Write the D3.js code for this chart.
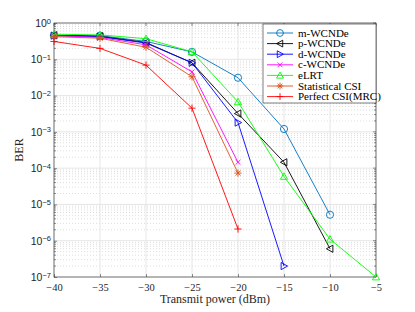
<!DOCTYPE html>
<html>
<head>
<meta charset="utf-8">
<script src="https://cdn.jsdelivr.net/npm/d3@7"></script>
<style>
  body { margin: 0; background: #fff; }
  svg { display: block; font-family: "Liberation Serif", "Times New Roman", serif; }
</style>
</head>
<body>
<svg id="chart" width="415" height="312"></svg>
<script>
// transmit power (dBm)
var power = [-40, -35, -30, -25, -20, -15, -10, -5];
var xTicks = [-40, -35, -30, -25, -20, -15, -10, -5];
var yTicks = [1e0, 1e-1, 1e-2, 1e-3, 1e-4, 1e-5, 1e-6, 1e-7];

// BER per scheme
var mWCNDe = [0.45, 0.45, 0.31, 0.16, 0.031, 0.0012, 5.2e-6];
var pWCNDe = [0.46, 0.43, 0.29, 0.08, 0.0032, 1.45e-4, 6e-7];
var dWCNDe = [0.45, 0.42, 0.28, 0.08, 0.0018, 2e-7];
var cWCNDe = [0.45, 0.40, 0.25, 0.045, 1.45e-4];
var eLRT = [0.49, 0.47, 0.37, 0.16, 0.0067, 5.9e-5, 1.1e-6, 1e-7];
var statCSI = [0.42, 0.38, 0.215, 0.033, 7.3e-5];
var perfectCSI = [0.31, 0.2, 0.069, 0.0045, 2.1e-6];

var series = [
  {name: "m-WCNDe", values: mWCNDe, color: "#0072BD", marker: "circle"},
  {name: "p-WCNDe", values: pWCNDe, color: "#000000", marker: "triLeft"},
  {name: "d-WCNDe", values: dWCNDe, color: "#0000FF", marker: "triRight"},
  {name: "c-WCNDe", values: cWCNDe, color: "#FF00FF", marker: "cross"},
  {name: "eLRT", values: eLRT, color: "#00FF00", marker: "triUp"},
  {name: "Statistical CSI", values: statCSI, color: "#D95319", marker: "star"},
  {name: "Perfect CSI(MRC)", values: perfectCSI, color: "#FF0000", marker: "plus"}
];

var svg = d3.select('#chart'),
    margin = {top: 23, right: 39, bottom: 35, left: 54},
    width = +svg.attr("width") - margin.left - margin.right,
    height = +svg.attr("height") - margin.top - margin.bottom,
    g = svg.append("g").attr("transform", "translate(" + margin.left + "," + margin.top + ")");

var x = d3.scaleLinear().domain([-40, -5]).range([0, width]);
var y = d3.scaleLog().domain([1e-7, 1]).range([height, 0]);

// minor grid (dotted, log minors only)
var minors = [];
for (var e = -7; e < 0; e++) {
  for (var k = 2; k <= 9; k++) minors.push(k * Math.pow(10, e));
}
g.append("g").selectAll("line").data(minors).enter().append("line")
  .attr("x1", 0).attr("x2", width)
  .attr("y1", function(d) { return y(d); }).attr("y2", function(d) { return y(d); })
  .attr("stroke", "#cfcfcf").attr("stroke-width", 0.7)
  .attr("stroke-dasharray", "1,2");

// major grid
g.append("g").selectAll("line").data(yTicks).enter().append("line")
  .attr("x1", 0).attr("x2", width)
  .attr("y1", function(d) { return y(d); }).attr("y2", function(d) { return y(d); })
  .attr("stroke", "#e3e3e3").attr("stroke-width", 0.9);
g.append("g").selectAll("line").data(xTicks).enter().append("line")
  .attr("y1", 0).attr("y2", height)
  .attr("x1", function(d) { return x(d); }).attr("x2", function(d) { return x(d); })
  .attr("stroke", "#e3e3e3").attr("stroke-width", 0.9);

// axes with inward ticks
var xAxis = g.append("g")
  .attr("transform", "translate(0," + height + ")")
  .call(d3.axisBottom(x).tickValues(xTicks).tickSize(-3).tickPadding(7).tickFormat(d3.format("d")));
var yAxis = g.append("g")
  .call(d3.axisLeft(y).tickValues(yTicks).tickSize(-3).tickPadding(5).tickFormat(""));

// minor ticks on y
g.append("g").selectAll("line").data(minors).enter().append("line")
  .attr("x1", 0).attr("x2", 2)
  .attr("y1", function(d) { return y(d); }).attr("y2", function(d) { return y(d); })
  .attr("stroke", "#262626").attr("stroke-width", 0.5);
g.append("g").selectAll("line").data(minors).enter().append("line")
  .attr("x1", width).attr("x2", width - 2)
  .attr("y1", function(d) { return y(d); }).attr("y2", function(d) { return y(d); })
  .attr("stroke", "#262626").attr("stroke-width", 0.5);

[xAxis, yAxis].forEach(function(a) {
  a.select(".domain").remove();
  a.selectAll(".tick line").attr("stroke", "#262626").attr("stroke-width", 0.5);
  a.selectAll("text").attr("fill", "#262626").style("font-size", "10.5px")
    .style("font-family", '"Liberation Serif", serif');
});

// y tick labels with superscripts
yAxis.selectAll(".tick").each(function(d) {
  var t = d3.select(this).append("text")
    .attr("x", -3).attr("dy", "0.32em")
    .attr("text-anchor", "end")
    .attr("fill", "#262626")
    .style("font-size", "10.5px");
  t.append("tspan").text("10");
  t.append("tspan").attr("dy", "-0.45em").style("font-size", "7.5px")
    .text(Math.round(Math.log10(d)) === 0 ? "0" : "\u2212" + (-Math.round(Math.log10(d))));
});

// top/right ticks
g.append("g").selectAll("line").data(xTicks).enter().append("line")
  .attr("x1", function(d) { return x(d); }).attr("x2", function(d) { return x(d); })
  .attr("y1", 0).attr("y2", 3).attr("stroke", "#262626").attr("stroke-width", 0.5);
g.append("g").selectAll("line").data(yTicks).enter().append("line")
  .attr("x1", width).attr("x2", width - 3)
  .attr("y1", function(d) { return y(d); }).attr("y2", function(d) { return y(d); })
  .attr("stroke", "#262626").attr("stroke-width", 0.5);

// box
g.append("rect").attr("width", width).attr("height", height)
  .attr("fill", "none").attr("stroke", "#262626").attr("stroke-width", 0.6);

function drawMarker(sel, type, color, s) {
  if (type === "circle") {
    sel.append("circle").attr("r", s).attr("fill", "none").attr("stroke", color).attr("stroke-width", 0.9);
  } else if (type === "triUp") {
    sel.append("path").attr("d", "M0," + (-s) + "L" + s + "," + (s * 0.8) + "L" + (-s) + "," + (s * 0.8) + "Z")
      .attr("fill", "none").attr("stroke", color).attr("stroke-width", 0.9);
  } else if (type === "triLeft") {
    sel.append("path").attr("d", "M" + (-s) + ",0L" + (s * 0.8) + "," + (-s) + "L" + (s * 0.8) + "," + s + "Z")
      .attr("fill", "none").attr("stroke", color).attr("stroke-width", 0.9);
  } else if (type === "triRight") {
    sel.append("path").attr("d", "M" + s + ",0L" + (-s * 0.8) + "," + (-s) + "L" + (-s * 0.8) + "," + s + "Z")
      .attr("fill", "none").attr("stroke", color).attr("stroke-width", 0.9);
  } else if (type === "cross") {
    var c = s * 0.7;
    sel.append("path").attr("d", "M" + (-c) + "," + (-c) + "L" + c + "," + c + "M" + (-c) + "," + c + "L" + c + "," + (-c))
      .attr("stroke", color).attr("stroke-width", 0.9);
  } else if (type === "plus") {
    sel.append("path").attr("d", "M" + (-s) + ",0L" + s + ",0M0," + (-s) + "L0," + s)
      .attr("stroke", color).attr("stroke-width", 0.9);
  } else if (type === "star") {
    var c2 = s * 0.7;
    sel.append("path").attr("d", "M" + (-s) + ",0L" + s + ",0M0," + (-s) + "L0," + s +
      "M" + (-c2) + "," + (-c2) + "L" + c2 + "," + c2 + "M" + (-c2) + "," + c2 + "L" + c2 + "," + (-c2))
      .attr("stroke", color).attr("stroke-width", 0.9);
  }
}

var line = d3.line()
  .x(function(d, i) { return x(power[i]); })
  .y(function(d) { return y(d); });

series.forEach(function(s) {
  g.append("path").datum(s.values)
    .attr("fill", "none").attr("stroke", s.color).attr("stroke-width", 0.9)
    .attr("d", line);
  g.append("g").selectAll("g").data(s.values).enter().append("g")
    .attr("transform", function(d, i) { return "translate(" + x(power[i]) + "," + y(d) + ")"; })
    .each(function() { drawMarker(d3.select(this), s.marker, s.color, 3.6); });
});

// legend
var lg = svg.append("g").attr("transform", "translate(263,24)");
lg.append("rect").attr("width", 113).attr("height", 79)
  .attr("fill", "#fff").attr("stroke", "#262626").attr("stroke-width", 0.6);
series.forEach(function(s, i) {
  var row = lg.append("g").attr("transform", "translate(0," + (9 + i * 10.6) + ")");
  row.append("line").attr("x1", 4).attr("x2", 30).attr("stroke", s.color).attr("stroke-width", 0.9);
  drawMarker(row.append("g").attr("transform", "translate(17,0)"), s.marker, s.color, 3.4);
  row.append("text").attr("x", 35).attr("dy", "0.33em")
    .style("font-size", "11px").attr("fill", "#000").text(s.name);
});

// axis labels
svg.append("text")
  .attr("x", margin.left + width / 2).attr("y", 303)
  .attr("text-anchor", "middle").style("font-size", "12px").attr("fill", "#262626")
  .text("Transmit power (dBm)");
svg.append("text")
  .attr("transform", "translate(23," + (margin.top + height / 2) + ") rotate(-90)")
  .attr("text-anchor", "middle").style("font-size", "12px").attr("fill", "#262626")
  .text("BER");
</script>
</body>
</html>
